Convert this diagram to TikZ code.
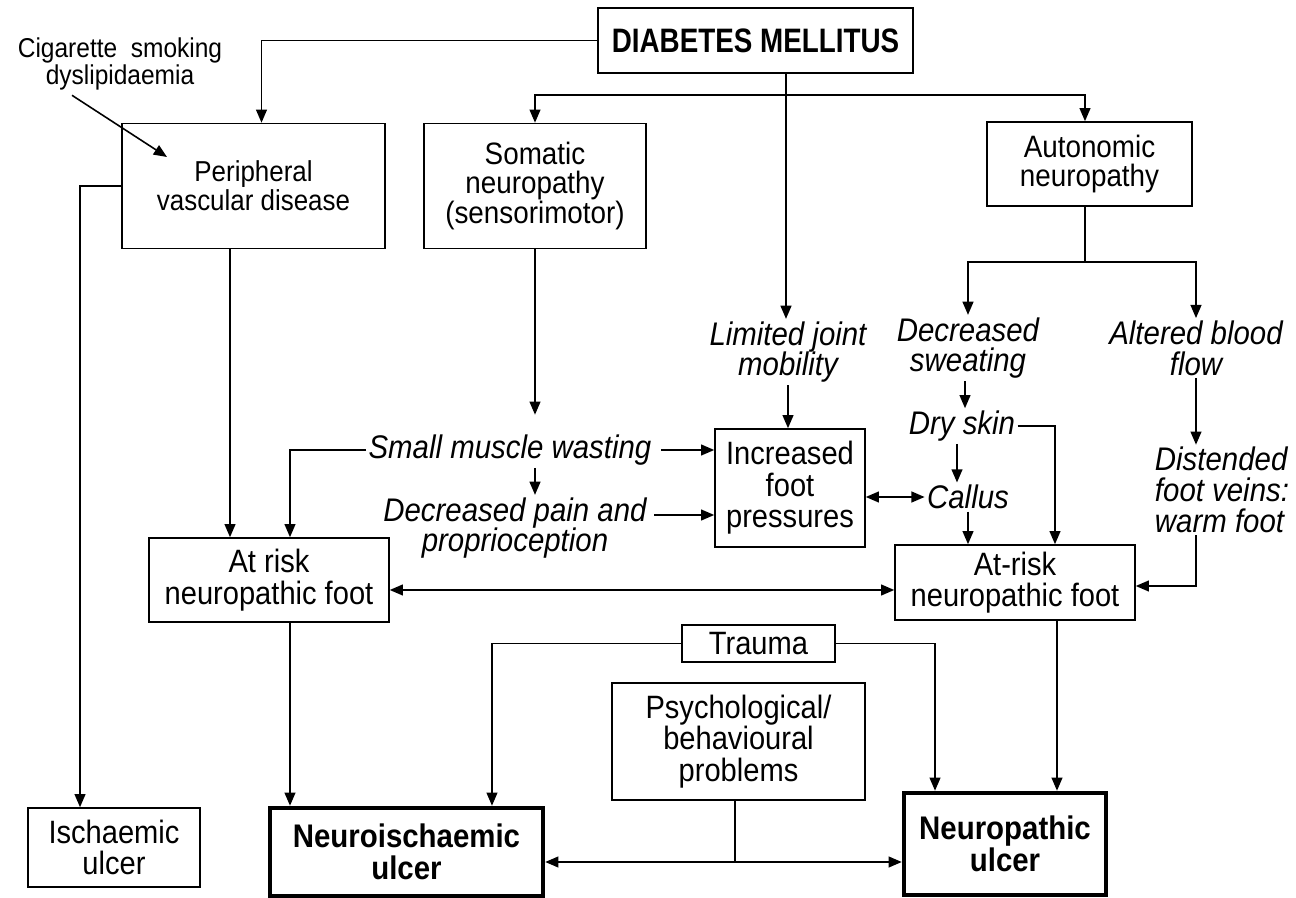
\documentclass[tikz,border=0pt]{standalone}
\usepackage{fontspec}
\setmainfont{Liberation Sans}
\newfontfamily\nf[FakeStretch=0.9]{Liberation Sans}
\newfontfamily\dmfont[FakeStretch=0.82]{Liberation Sans}
\usetikzlibrary{arrows.meta,calc}
\tikzset{
  box/.style={draw, line width=0.9pt, align=center, inner sep=2pt, font=\nf\fontsize{18.4}{18}\selectfont},
  tbox/.style={box, line width=2.6pt, font=\nf\fontsize{18.6}{18}\selectfont\bfseries},
  lab/.style={align=center, inner sep=1pt, font=\nf\fontsize{18.6}{17.5}\selectfont\itshape},
  tip/.tip={Triangle[length=7.5pt,width=6.2pt]},
  arr/.style={-tip},
  arr2/.style={tip-tip},
}
\begin{document}
\begin{tikzpicture}[x=0.02cm,y=-0.02cm,line width=0.9pt]
\useasboundingbox (0,0) rectangle (1296,898);
% boxes
\node[box, minimum width=6.3cm, minimum height=1.3cm, font=\dmfont\bfseries\fontsize{19.3}{20}\selectfont] (dm) at (755.5,40.5) {DIABETES MELLITUS};
\node[box, minimum width=5.26cm, minimum height=2.5cm, font=\nf\fontsize{16.4}{14.2}\selectfont] (pvd) at (253.5,186) {Peripheral\\vascular disease};
\node[box, minimum width=4.44cm, minimum height=2.5cm, font=\nf\fontsize{17.6}{16.6}\selectfont] (som) at (535,186) {Somatic\\neuropathy\\(sensorimotor)};
\node[box, minimum width=4.1cm, minimum height=1.68cm, font=\nf\fontsize{17.6}{16.4}\selectfont] (aut) at (1089.5,164) {Autonomic\\neuropathy};
\node[box, minimum width=3.0cm, minimum height=2.36cm] (ifp) at (790,488) {Increased\\foot\\pressures};
\node[box, minimum width=4.8cm, minimum height=1.68cm] (arL) at (269,580) {At risk\\neuropathic foot};
\node[box, minimum width=4.8cm, minimum height=1.5cm] (arR) at (1015,582.5) {At-risk\\neuropathic foot};
\node[box, minimum width=3.06cm, minimum height=0.74cm] (trauma) at (758.5,643.5) {Trauma};
\node[box, minimum width=5.06cm, minimum height=2.34cm] (psy) at (738.5,741.5) {Psychological/\\behavioural\\problems};
\node[box, minimum width=3.44cm, minimum height=1.58cm] (isch) at (114,847.5) {Ischaemic\\ulcer};
\node[tbox, minimum width=5.46cm, minimum height=1.76cm] (nis) at (406.5,852) {Neuroischaemic\\ulcer};
\node[tbox, minimum width=4.04cm, minimum height=2.04cm] (np) at (1005,844) {Neuropathic\\ulcer};
% labels
\node[align=center, inner sep=1pt, font=\nf\fontsize{15.5}{14.2}\selectfont] (cig) at (120,64) {Cigarette\ \ smoking\\dyslipidaemia};
\node[lab] (ljm) at (788,352) {Limited joint\\mobility};
\node[lab] (sm) at (510,450) {Small muscle wasting};
\node[lab] (dpp) at (515,528) {Decreased pain and\\proprioception};
\node[lab] (ds) at (968,348) {Decreased\\sweating};
\node[lab] (dry) at (962,426) {Dry skin};
\node[lab] (cal) at (968,497) {Callus};
\node[lab] (abf) at (1196,348) {Altered blood\\flow};
\node[lab, align=left] (dfv) at (1222,490) {Distended\\foot veins:\\warm foot};
\coordinate (b1) at (786,95);
\coordinate (b2) at (1085,262);
\coordinate (cigtip) at (167,157);
\coordinate (j) at (735,862);
% connectors
\draw[arr] (dm.west) -| ([xshift=0.16cm]pvd.north);
\draw[arr] (dm.south -| b1) -- (ljm.north -| b1);
\draw[arr] (b1) -| (som.north);
\draw[arr] (b1) -| (b2 |- aut.north);
\draw[arr] ([xshift=-0.96cm,yshift=-0.05cm]cig.south) -- (cigtip);
\draw[arr] (pvd.west) -| ([xshift=-0.68cm]isch.north);
\draw[arr] ([xshift=-0.47cm]pvd.south) -- ([xshift=-0.47cm]pvd.south |- arL.north);
\draw[arr] (som.south) -- ([yshift=0.35cm]som.south |- sm.north);
\draw[arr] (sm.west) -| ([xshift=0.42cm]arL.north);
\draw[arr] ([xshift=0.15cm]sm.east) -- (sm.east -| ifp.west);
\draw[arr] (sm.south -| som.south) -- (dpp.north -| som.south);
\draw[arr] ([xshift=0.1cm,yshift=0.26cm]dpp.east) -- ([yshift=0.26cm]dpp.east -| ifp.west);
\draw[arr] (ljm.south) -- (ljm.south |- ifp.north);
\draw[arr2] (ifp.east |- cal.west) -- (cal.west);
\draw (b2 |- aut.south) -- (b2);
\draw[arr] (b2) -| (ds.north);
\draw[arr] (b2) -| (abf.north);
\draw[arr] (ds.south -| 965,0) -- (dry.north -| 965,0);
\draw[arr] (dry.east) -| ([xshift=0.8cm]arR.north);
\draw[arr] ([xshift=-0.1cm]dry.south) -- ([xshift=-0.1cm]dry.south |- cal.north);
\draw[arr] (cal.south) -- (cal.south |- arR.north);
\draw[arr] (abf.south) -- (abf.south |- dfv.north);
\draw[arr] (dfv.south -| abf.south) |- ([yshift=-0.07cm]arR.east);
\draw[arr2] ([yshift=-0.2cm]arL.east) -- ([yshift=-0.2cm]arL.east -| arR.west);
\draw[arr] (trauma.west) -| ([xshift=1.71cm]nis.north);
\draw[arr] (trauma.east) -| ([xshift=-1.4cm]np.north);
\draw (psy.south -| j) -- (j);
\draw[arr2] (j -| nis.east) -- (j -| np.west);
\draw[arr] ([xshift=0.42cm]arL.south) -- ([xshift=0.42cm]arL.south |- nis.north);
\draw[arr] ([xshift=0.84cm]arR.south) -- ([xshift=0.84cm]arR.south |- np.north);
\end{tikzpicture}
\end{document}
